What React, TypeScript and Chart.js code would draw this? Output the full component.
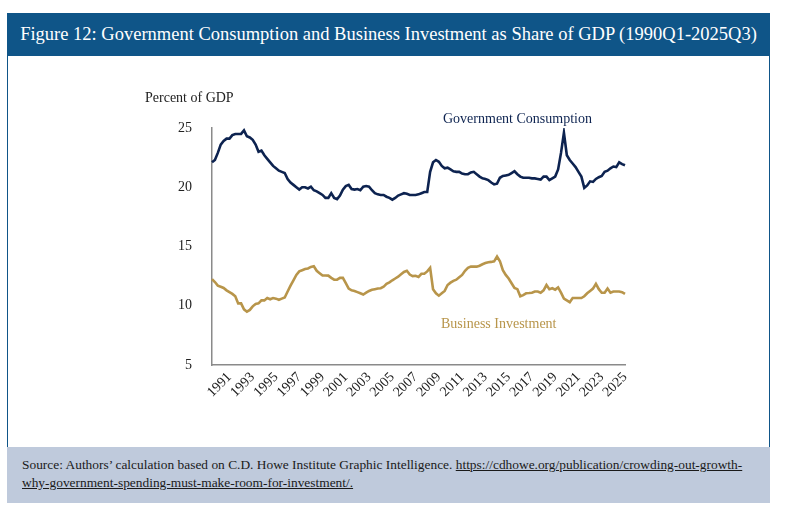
import React, { useEffect, useRef } from 'react';
import { Chart, registerables } from 'chart.js';

Chart.register(...registerables);

// quarterly categories, 1990Q1 - 2025Q3
const START_YEAR = 1990;
const QUARTER_COUNT = 143;
const quarters: string[] = [];
for (let i = 0; i < QUARTER_COUNT; i++) {
  quarters.push(`${START_YEAR + Math.floor(i / 4)}Q${(i % 4) + 1}`);
}

const tickYears = [
  '1991', '1993', '1995', '1997', '1999', '2001', '2003', '2005', '2007',
  '2009', '2011', '2013', '2015', '2017', '2019', '2021', '2023', '2025',
];

const yTicks = [5, 10, 15, 20, 25];

const govConsumption = [
  22.1, 22.3, 22.9, 23.6, 23.9, 24.1, 24.1, 24.4, 24.5, 24.5, // 1990-1992Q2
  24.5, 24.8, 24.3, 24.2, 24.0, 23.6, 23.0, 23.1, 22.7, 22.4,
  22.1, 21.8, 21.6, 21.4, 21.3, 21.2, 20.7, 20.4, 20.2, 20.0,
  19.8, 20.0, 20.0, 19.9, 20.05, 19.75, 19.65, 19.5, 19.35, 19.1,
  19.1, 19.5, 19.1, 19.0, 19.3, 19.8, 20.1, 20.2, 19.85, 19.8,
  19.85, 19.75, 20.05, 20.1, 20.05, 19.75, 19.5, 19.4, 19.35, 19.35,
  19.2, 19.1, 18.95, 19.1, 19.3, 19.4, 19.5, 19.45, 19.35, 19.35,
  19.35, 19.4, 19.5, 19.6, 19.6, 21.3, 22.1, 22.3, 22.15, 21.8,
  21.6, 21.65, 21.5, 21.35, 21.3, 21.3, 21.15, 21.1, 21.1, 21.25,
  21.3, 21.1, 20.9, 20.75, 20.7, 20.6, 20.4, 20.25, 20.3, 20.8,
  20.95, 21.0, 21.05, 21.2, 21.35, 21.1, 20.9, 20.8, 20.8, 20.8,
  20.75, 20.75, 20.7, 20.65, 20.9, 20.9, 20.6, 20.75, 20.9, 21.5,
  22.9, 24.6, 22.7, 22.3, 22.0, 21.7, 21.3, 20.9, 19.95, 20.15,
  20.5, 20.45, 20.7, 20.85, 20.95, 21.3, 21.4, 21.6, 21.75, 21.7,
  22.1, 21.95, 21.85,
];

const businessInvestment = [
  12.25, 12.0, 11.7, 11.6, 11.5, 11.3, 11.15, 11.0, 10.8, 10.2,
  10.2, 9.7, 9.5, 9.65, 9.95, 10.15, 10.2, 10.45, 10.45, 10.65,
  10.55, 10.65, 10.6, 10.5, 10.6, 10.7, 11.2, 11.7, 12.15, 12.6,
  12.9, 13.0, 13.1, 13.15, 13.28, 13.33, 12.95, 12.75, 12.55, 12.55,
  12.54, 12.35, 12.2, 12.2, 12.35, 12.35, 11.9, 11.45, 11.3, 11.25,
  11.15, 11.05, 10.95, 11.1, 11.25, 11.35, 11.4, 11.45, 11.48, 11.6,
  11.85, 11.97, 12.15, 12.3, 12.45, 12.65, 12.85, 12.95, 12.63, 12.5,
  12.53, 12.43, 12.7, 12.7, 12.9, 13.2, 11.4, 11.05, 10.85, 11.05,
  11.25, 11.75, 11.95, 12.1, 12.2, 12.4, 12.6, 12.95, 13.2, 13.3,
  13.3, 13.3, 13.38, 13.5, 13.6, 13.67, 13.7, 13.75, 14.15, 13.76,
  13.0, 12.6, 12.3, 11.9, 11.5, 11.4, 10.8, 10.9, 11.05, 11.07,
  11.1, 11.2, 11.2, 11.1, 11.3, 11.75, 11.4, 11.48, 11.36, 11.55,
  11.1, 10.6, 10.45, 10.3, 10.65, 10.65, 10.65, 10.65, 10.8, 11.05,
  11.25, 11.45, 11.85, 11.4, 11.1, 11.1, 11.45, 11.1, 11.2, 11.2,
  11.2, 11.15, 11.0,
];

const NAVY = '#0d2350';
const GOLD = '#b8954a';
const FRAME_BLUE = '#0f5588';
const SERIF = '"Liberation Serif", "DejaVu Serif", serif';

const seriesLabels = {
  id: 'seriesLabels',
  afterDraw(chart: Chart) {
    const { ctx } = chart;
    ctx.save();
    ctx.font = `14px ${SERIF}`;
    ctx.textBaseline = 'alphabetic';
    ctx.fillStyle = '#222';
    ctx.fillText('Percent of GDP', 145, 102);
    ctx.fillStyle = NAVY;
    ctx.fillText('Government Consumption', 443, 123);
    ctx.fillStyle = GOLD;
    ctx.fillText('Business Investment', 441, 328);
    ctx.restore();
  },
};

const App: React.FC = () => {
  const chartRef = useRef<HTMLCanvasElement | null>(null);
  const chartInstance = useRef<Chart | null>(null);

  useEffect(() => {
    document.body.style.margin = '0';
    if (!chartRef.current) return;
    if (chartInstance.current) chartInstance.current.destroy();

    chartInstance.current = new Chart(chartRef.current, {
      type: 'line',
      data: {
        labels: quarters,
        datasets: [
          {
            label: 'Government Consumption',
            data: govConsumption,
            borderColor: NAVY,
            borderWidth: 2.6,
            pointRadius: 0,
            tension: 0,
          },
          {
            label: 'Business Investment',
            data: businessInvestment,
            borderColor: GOLD,
            borderWidth: 2.6,
            pointRadius: 0,
            tension: 0,
          },
        ],
      },
      options: {
        responsive: false,
        animation: false,
        layout: { padding: { top: 128, right: 175, left: 0, bottom: 0 } },
        plugins: {
          legend: { display: false },
          tooltip: { enabled: false },
        },
        scales: {
          x: {
            grid: { display: false, drawTicks: false },
            border: { display: true, color: '#8a8a8a', width: 1.5 },
            afterFit: (scale: any) => { scale.height = 156; },
            ticks: {
              autoSkip: false,
              minRotation: 45,
              maxRotation: 45,
              padding: 4,
              color: '#222',
              font: { family: SERIF, size: 14 },
              // year labels sit mid-year (third quarter)
              callback: (_v: any, index: number) => {
                const q = quarters[index];
                const year = q.slice(0, 4);
                return q.endsWith('Q3') && tickYears.includes(year) ? year : '';
              },
            },
          },
          y: {
            min: yTicks[0],
            max: yTicks[yTicks.length - 1],
            grid: { display: false, drawTicks: false },
            border: { display: true, color: '#8a8a8a', width: 1.5 },
            afterFit: (scale: any) => { scale.width = 212; },
            afterBuildTicks: (scale: any) => {
              scale.ticks = yTicks.map((v) => ({ value: v }));
            },
            ticks: {
              padding: 20,
              color: '#222',
              font: { family: SERIF, size: 14 },
            },
          },
        },
      },
      plugins: [seriesLabels],
    });

    return () => {
      if (chartInstance.current) {
        chartInstance.current.destroy();
        chartInstance.current = null;
      }
    };
  }, []);

  return (
    <div style={{ position: 'relative', width: 800, height: 521, background: '#fff', fontFamily: SERIF }}>
      <div
        style={{
          position: 'absolute', left: 7, top: 13, width: 763, height: 43,
          background: FRAME_BLUE, color: '#fff', fontSize: 18.5,
          display: 'flex', alignItems: 'center', justifyContent: 'center', whiteSpace: 'nowrap',
        }}
      >
        Figure 12: Government Consumption and Business Investment as Share of GDP (1990Q1-2025Q3)
      </div>
      <div
        style={{
          position: 'absolute', left: 7, top: 56, width: 763, height: 391, boxSizing: 'border-box',
          borderLeft: `1.5px solid ${FRAME_BLUE}`, borderRight: `1.5px solid ${FRAME_BLUE}`,
        }}
      />
      <div
        style={{
          position: 'absolute', left: 7, top: 447, width: 763, height: 56, boxSizing: 'border-box',
          background: '#bfcadc', color: '#1a1a1a', fontSize: 13.4, lineHeight: '18px',
          padding: '9px 0 0 15px', whiteSpace: 'nowrap',
        }}
      >
        Source: Authors’ calculation based on C.D. Howe Institute Graphic Intelligence.{' '}
        <span style={{ textDecoration: 'underline' }}>https://cdhowe.org/publication/crowding-out-growth-</span>
        <br />
        <span style={{ textDecoration: 'underline' }}>why-government-spending-must-make-room-for-investment/.</span>
      </div>
      <canvas
        ref={chartRef}
        width={800}
        height={521}
        style={{ position: 'absolute', left: 0, top: 0, width: 800, height: 521 }}
      />
    </div>
  );
};

export default App;
